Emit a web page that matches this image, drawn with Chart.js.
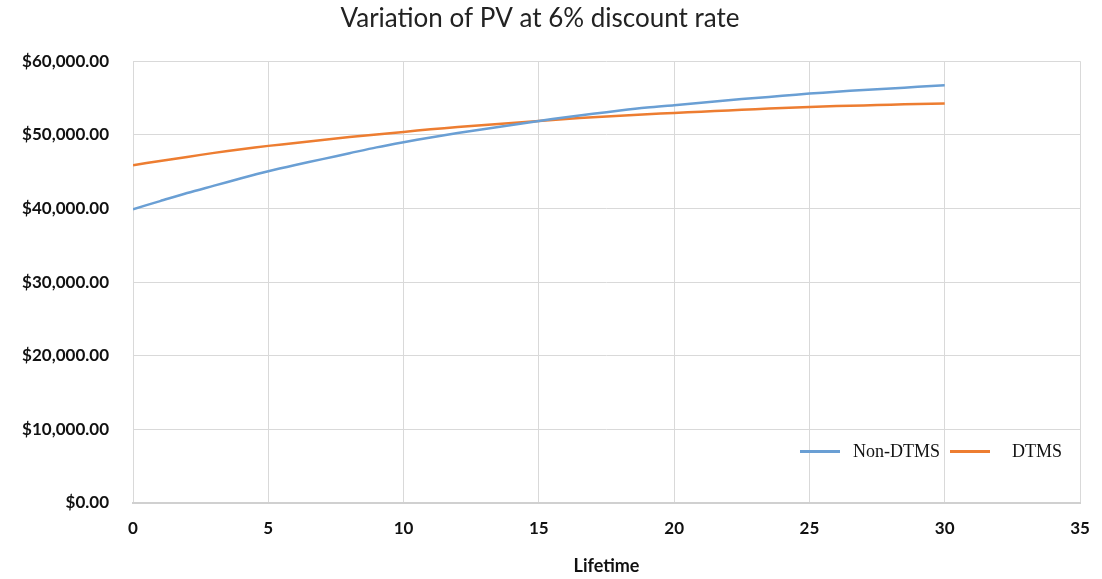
<!DOCTYPE html>
<html>
<head>
<meta charset="utf-8">
<title>Variation of PV at 6% discount rate</title>
<script src="https://cdn.jsdelivr.net/npm/chart.js@4/dist/chart.umd.min.js"></script>
<style>
    html, body { margin: 0; padding: 0; background: #fff; }
    #wrap { position: relative; width: 1102px; height: 579px; }
    #legend {
        position: absolute; left: 800px; top: 441px;
        font-family: "Liberation Serif", "DejaVu Serif", serif;
        font-size: 18px; color: #111; display: flex; align-items: center;
    }
    #legend span.swatch { display: inline-block; width: 40px; height: 3px; margin-right: 13px; }
    #legend span.item { display: inline-flex; align-items: center; }
</style>
</head>
<body>
<div id="wrap">
    <canvas id="pv-chart" width="1102" height="579"></canvas>
    <div id="legend"></div>
</div>
<script>
// Lifetime in years
const years = [0, 1, 2, 3, 4, 5, 6, 7, 8, 9, 10, 11, 12, 13, 14, 15,
               16, 17, 18, 19, 20, 21, 22, 23, 24, 25, 26, 27, 28, 29, 30];

// Present value, Non-DTMS
const nonDtmsPV = [39900, 41000, 42100, 43100, 44100, 45050, 45900, 46700, 47500, 48300,
                   49000, 49650, 50250, 50800, 51350, 51890, 52400, 52850, 53300, 53700,
                   54020, 54350, 54700, 55000, 55300, 55600, 55850, 56100, 56300, 56520, 56740];

// Present value, DTMS
const dtmsPV = [45870, 46450, 47000, 47550, 48050, 48500, 48900, 49300, 49700, 50050,
                50400, 50750, 51050, 51350, 51620, 51890, 52150, 52400, 52600, 52800,
                52980, 53150, 53320, 53480, 53640, 53790, 53900, 54000, 54100, 54180, 54260];

const seriesLabels = ['Non-DTMS', 'DTMS'];
const seriesColors = ['#6a9fd4', '#ed7d31'];

function toPoints(values) {
    return years.map((x, i) => ({ x: x, y: values[i] }));
}

const tickFont = { family: 'Lato', size: 17, weight: 'bold' };

const chart = new Chart(document.getElementById('pv-chart'), {
    type: 'line',
    data: {
        datasets: [
            {
                label: seriesLabels[0],
                data: toPoints(nonDtmsPV),
                borderColor: seriesColors[0],
                borderWidth: 2.5,
                pointRadius: 0,
                tension: 0.3
            },
            {
                label: seriesLabels[1],
                data: toPoints(dtmsPV),
                borderColor: seriesColors[1],
                borderWidth: 2.5,
                pointRadius: 0,
                tension: 0.3
            }
        ]
    },
    options: {
        responsive: false,
        animation: false,
        layout: { padding: { left: 0, right: 22, top: 0, bottom: 0 } },
        plugins: {
            legend: { display: false },
            tooltip: { enabled: false },
            title: {
                display: true,
                text: 'Variation of PV at 6% discount rate',
                color: '#222',
                font: { family: 'Lato', size: 26, weight: 'normal' },
                padding: { top: 3, bottom: 27 }
            }
        },
        scales: {
            x: {
                type: 'linear',
                min: 0,
                max: 35,
                ticks: { stepSize: 5, color: '#111', font: tickFont, padding: 15 },
                grid: { color: '#d9d9d9', drawTicks: false },
                border: { color: '#d0d0d0', width: 2 },
                title: {
                    display: true,
                    text: 'Lifetime',
                    color: '#111',
                    font: { family: 'Lato', size: 18, weight: 'bold' },
                    padding: { top: 8, bottom: 2 }
                },
                afterFit: function(scale) {
                    scale.height = 76;
                    scale.paddingRight = 0;
                    scale.paddingLeft = 0;
                }
            },
            y: {
                min: 0,
                max: 60000,
                ticks: {
                    stepSize: 10000,
                    color: '#111',
                    font: tickFont,
                    padding: 24,
                    callback: function(value) {
                        return '$' + value.toLocaleString('en-US', { minimumFractionDigits: 2, maximumFractionDigits: 2 });
                    }
                },
                grid: { color: '#d9d9d9', drawTicks: false },
                border: { display: false },
                afterFit: function(scale) { scale.width = 133; }
            }
        }
    }
});

// Legend sits inside the plot area, bottom right
const legendEl = document.getElementById('legend');
chart.data.datasets.forEach(function(ds, i) {
    const item = document.createElement('span');
    item.className = 'item';
    item.style.marginRight = i === 0 ? '10px' : '0';
    item.innerHTML = '<span class="swatch" style="background:' + ds.borderColor + '"></span>' + ds.label;
    if (i === 1) item.querySelector('.swatch').style.marginRight = '22px';
    legendEl.appendChild(item);
});
</script>
</body>
</html>
